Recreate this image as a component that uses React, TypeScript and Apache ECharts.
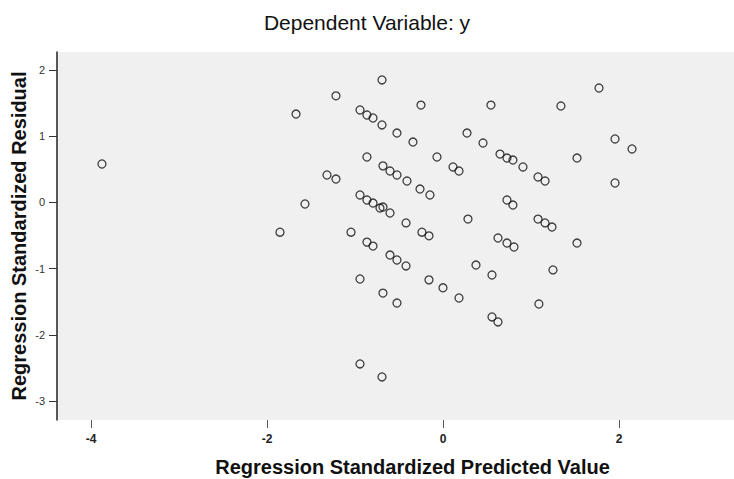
import React, { useEffect, useRef } from "react";
import * as echarts from "echarts";

// Regression Standardized Predicted Value (x) and Residual (y)
const predicted = [
  -3.875, -0.693, -1.216, -1.67, -0.25, 0.545, 1.34, 1.773,
  -0.943, -0.864, -0.795, -0.693, -0.523, -0.341, 0.273, 0.455,
  0.648, 0.727, 0.795, 0.909, 1.08, 1.16, 1.523, 1.955, 2.148, 1.955,
  -0.068, 0.114, 0.182, -0.682, -0.602, -0.523, -0.409, -0.261, -0.148,
  0.727, 0.795, 0.284, 1.08, 1.16, 1.239, -0.682, -0.602, -0.42,
  -0.239, -0.159, -0.864, -1.318, -1.216, -1.568, -1.852, -0.943,
  -0.864, -0.795, -0.716, -1.045, -0.864, -0.795, -0.602, -0.523,
  -0.943, -0.682, -0.523, -0.943, -0.693, 0.625, 0.727, 0.807, 1.523,
  -0.42, -0.159, 0.0, 0.182, 0.375, 0.557, 1.25, 1.09, 0.557, 0.625,
];
const residual = [
  0.58, 1.85, 1.61, 1.335, 1.47, 1.47, 1.456, 1.728,
  1.396, 1.32, 1.275, 1.17, 1.048, 0.912, 1.048, 0.897,
  0.73, 0.67, 0.64, 0.535, 0.384, 0.323, 0.67, 0.958, 0.807, 0.293,
  0.686, 0.535, 0.474, 0.552, 0.474, 0.414, 0.323, 0.202, 0.112,
  0.036, -0.04, -0.252, -0.252, -0.31, -0.372, -0.07, -0.16, -0.31,
  -0.45, -0.505, 0.686, 0.414, 0.353, -0.024, -0.45, 0.112,
  0.036, -0.01, -0.085, -0.45, -0.6, -0.66, -0.795, -0.87,
  -1.157, -1.37, -1.52, -2.44, -2.637, -0.538, -0.614, -0.674, -0.614,
  -0.96, -1.17, -1.29, -1.444, -0.946, -1.097, -1.02, -1.535, -1.73, -1.806,
];
const xTicks = [-4, -2, 0, 2];
const yTicks = [-3, -2, -1, 0, 1, 2];

const titleText = "Dependent Variable: y";
const xName = "Regression Standardized Predicted Value";
const yName = "Regression Standardized Residual";

export default function App() {
  const ref = useRef<HTMLDivElement>(null);
  useEffect(() => {
    document.body.style.margin = "0";
    const chart = echarts.init(ref.current!, null, { renderer: "svg" });
    const points = predicted.map((x, i) => [x, residual[i]]);
    chart.setOption({
      animation: false,
      backgroundColor: "#ffffff",
      title: {
        text: titleText,
        left: "center",
        top: 7,
        textStyle: {
          fontFamily: "Liberation Sans",
          fontSize: 21,
          fontWeight: "normal",
          color: "#111",
        },
      },
      grid: {
        left: 57,
        right: 0,
        top: 52,
        bottom: 59,
        show: true,
        backgroundColor: "#f0f0f0",
        borderWidth: 0,
        containLabel: false,
        outerBoundsMode: "none",
      },
      xAxis: {
        type: "value",
        min: -4.386,
        max: 3.307,
        name: xName,
        nameLocation: "middle",
        nameGap: 37,
        nameMoveOverlap: false,
        nameTextStyle: {
          fontFamily: "Liberation Sans",
          fontSize: 20,
          fontWeight: "bold",
          color: "#111",
          padding: [0, 0, 0, 34],
        },
        axisLine: { show: false, onZero: false },
        axisTick: {
          show: true,
          length: 8,
          customValues: xTicks,
          lineStyle: { color: "#555", width: 1 },
        },
        axisLabel: {
          customValues: xTicks,
          margin: 13,
          fontFamily: "Liberation Sans",
          fontSize: 12,
          fontWeight: "bold",
          color: "#222",
        },
        splitLine: { show: false },
      },
      yAxis: {
        type: "value",
        min: -3.287,
        max: 2.272,
        name: yName,
        nameLocation: "middle",
        nameGap: 28,
        nameMoveOverlap: false,
        nameTextStyle: {
          fontFamily: "Liberation Sans",
          fontSize: 20,
          fontWeight: "bold",
          color: "#111",
        },
        axisLine: { show: true, onZero: false, lineStyle: { color: "#222", width: 1.5 } },
        axisTick: {
          show: true,
          length: 8,
          customValues: yTicks,
          lineStyle: { color: "#333", width: 1 },
        },
        axisLabel: {
          customValues: yTicks,
          margin: 12,
          fontFamily: "Liberation Sans",
          fontSize: 11,
          color: "#333",
        },
        splitLine: { show: false },
      },
      series: [
        {
          type: "scatter",
          data: points,
          symbol: "circle",
          symbolSize: 8,
          itemStyle: {
            color: "rgba(0,0,0,0)",
            borderColor: "#111",
            borderWidth: 1.3,
          },
        },
      ],
    });
    return () => chart.dispose();
  }, []);
  return <div ref={ref} style={{ width: 734, height: 479 }} />;
}
